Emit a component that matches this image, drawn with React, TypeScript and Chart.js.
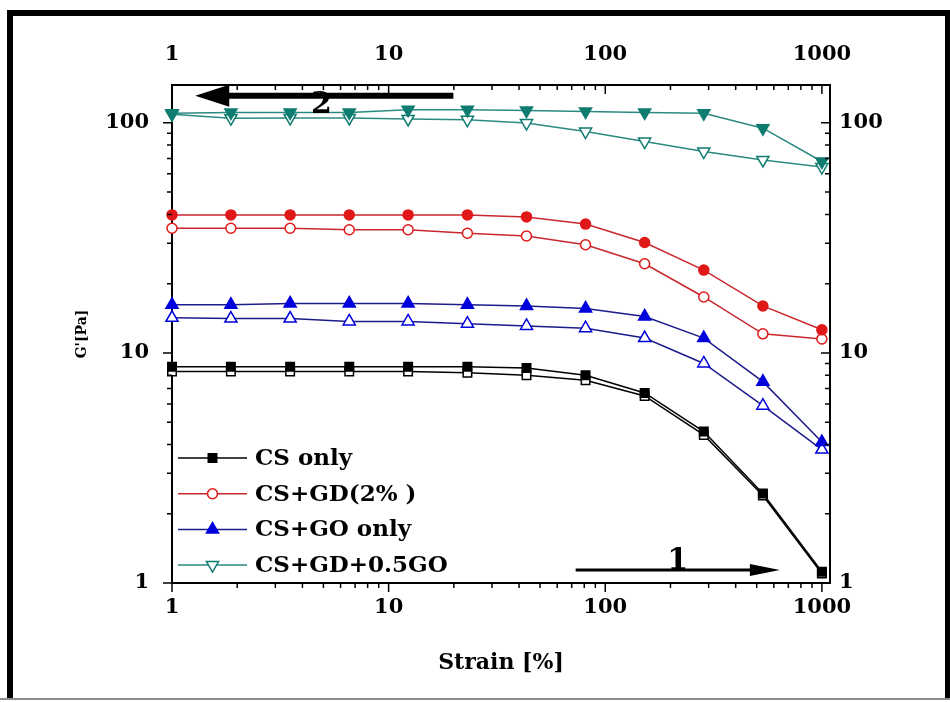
import React, { useEffect, useRef } from "react";
import { Chart, registerables } from "chart.js";

Chart.register(...registerables);

// ---------- data ----------
const strain = [1, 1.87, 3.51, 6.58, 12.3, 23.1, 43.3, 81.1, 152, 285, 534, 1000];

const csOnlyA = [8.7, 8.7, 8.7, 8.7, 8.7, 8.7, 8.6, 8.0, 6.7, 4.55, 2.45, 1.12];
const csOnlyB = [8.3, 8.3, 8.3, 8.3, 8.3, 8.2, 8.0, 7.6, 6.5, 4.4, 2.4, 1.1];

const csGdA = [39.8, 39.8, 39.8, 39.8, 39.8, 39.8, 39.0, 36.3, 30.2, 22.9, 16.0, 12.6];
const csGdB = [34.8, 34.8, 34.8, 34.3, 34.3, 33.1, 32.2, 29.5, 24.4, 17.5, 12.1, 11.5];

const csGoA = [16.2, 16.2, 16.4, 16.4, 16.4, 16.2, 16.0, 15.6, 14.4, 11.6, 7.5, 4.1];
const csGoB = [14.2, 14.1, 14.1, 13.7, 13.7, 13.4, 13.1, 12.8, 11.6, 9.0, 5.9, 3.8];

const csGdGoA = [110, 111, 111, 111, 114, 114, 113, 112, 111, 110, 94.8, 67.9];
const csGdGoB = [109, 104.8, 105, 105, 104, 103, 99.7, 91.6, 82.9, 75.0, 69.0, 64.2];

const seriesNames = ["CS only", "CS+GD(2% )", "CS+GO only", "CS+GD+0.5GO"];

const xTickValues = [1, 10, 100, 1000];
const yTickValues = [1, 10, 100];
const xRange = [1, 1090];
const yRange = [1, 146];

// sweep-direction arrows (data coordinates)
const arrowSweep1 = { from: [73, 1.14], to: [640, 1.14], label: "1", labelAt: [216, 1.14] };
const arrowSweep2 = { from: [19.9, 131], to: [1.28, 131], label: "2", labelAt: [4.9, 131] };

// ---------- styles ----------
const FONT = "'DejaVu Serif', 'Liberation Serif', serif";
Chart.defaults.font.family = FONT;
Chart.defaults.font.weight = "bold";
Chart.defaults.color = "#000";

type Sty = { line: string; mark: string; style: string; r: number; rot: number };
const styles: Sty[] = [
  { line: "#000000", mark: "#000000", style: "rect", r: 6, rot: 0 },
  { line: "#c8282d", mark: "#e01818", style: "circle", r: 5, rot: 0 },
  { line: "#1c1c8c", mark: "#0000dd", style: "triangle", r: 7, rot: 0 },
  { line: "#2b8a80", mark: "#0f7c70", style: "triangle", r: 7, rot: 180 },
];

const groups = [
  [csOnlyA, csOnlyB],
  [csGdA, csGdB],
  [csGoA, csGoB],
  [csGdGoA, csGdGoB],
];

function makeDatasets() {
  const out: any[] = [];
  groups.forEach((pair, gi) => {
    const s = styles[gi];
    pair.forEach((vals, k) => {
      out.push({
        label: seriesNames[gi] + (k === 0 ? "" : " (2)"),
        data: strain.map((x, i) => ({ x, y: vals[i] })),
        borderColor: s.line,
        borderWidth: 1.5,
        pointStyle: s.style,
        pointRotation: s.rot,
        pointRadius: s.r,
        pointBorderColor: s.mark,
        pointBackgroundColor: k === 0 ? s.mark : "#ffffff",
        pointBorderWidth: 1.5,
        tension: 0,
        clip: false,
      });
    });
  });
  return out;
}

function drawMarker(ctx: CanvasRenderingContext2D, style: string, x: number, y: number, r: number, rot: number, fill: string, stroke: string) {
  ctx.save();
  ctx.translate(x, y);
  ctx.rotate((rot * Math.PI) / 180);
  ctx.beginPath();
  if (style === "rect") {
    const s = r * Math.SQRT1_2;
    ctx.rect(-s, -s, 2 * s, 2 * s);
  } else if (style === "circle") {
    ctx.arc(0, 0, r, 0, Math.PI * 2);
  } else {
    ctx.moveTo(0, -r);
    ctx.lineTo(r * Math.sin(Math.PI / 3), r * 0.5);
    ctx.lineTo(-r * Math.sin(Math.PI / 3), r * 0.5);
    ctx.closePath();
  }
  ctx.fillStyle = fill;
  ctx.fill();
  ctx.lineWidth = 1.5;
  ctx.strokeStyle = stroke;
  ctx.stroke();
  ctx.restore();
}

function drawArrow(ctx: CanvasRenderingContext2D, x1: number, y1: number, x2: number, y2: number, lw: number, headLen: number, headHalf: number) {
  const dir = Math.sign(x2 - x1);
  ctx.save();
  ctx.strokeStyle = "#000";
  ctx.fillStyle = "#000";
  ctx.lineWidth = lw;
  ctx.beginPath();
  ctx.moveTo(x1, y1);
  ctx.lineTo(x2 - dir * headLen * 0.7, y2);
  ctx.stroke();
  ctx.beginPath();
  ctx.moveTo(x2, y2);
  ctx.lineTo(x2 - dir * headLen, y2 - headHalf);
  ctx.lineTo(x2 - dir * headLen, y2 + headHalf);
  ctx.closePath();
  ctx.fill();
  ctx.restore();
}

const decorPlugin = {
  id: "decor",
  beforeDraw(chart: any) {
    const ctx = chart.ctx as CanvasRenderingContext2D;
    ctx.save();
    ctx.fillStyle = "#fff";
    ctx.fillRect(0, 0, chart.width, chart.height);
    ctx.fillStyle = "#000";
    ctx.fillRect(7, 10, 6, 690);
    ctx.fillRect(7, 10, 943, 6);
    ctx.fillRect(945, 10, 5, 690);
    ctx.fillStyle = "#8a8a8a";
    ctx.fillRect(0, 698, 950, 2);
    ctx.restore();
  },
  afterDraw(chart: any) {
    const ctx = chart.ctx as CanvasRenderingContext2D;
    const a = chart.chartArea;
    const sx = chart.scales.x;
    const sy = chart.scales.y;
    ctx.save();
    ctx.strokeStyle = "#000";
    ctx.lineWidth = 1.5;
    // x ticks (bottom outward, top inward)
    for (const d of xTickValues) {
      for (let m = 1; m <= 9; m++) {
        const v = d * m;
        if (v < xRange[0] || v > xRange[1]) continue;
        const p = sx.getPixelForValue(v);
        const len = m === 1 ? 9 : 5;
        ctx.beginPath();
        ctx.moveTo(p, a.bottom);
        ctx.lineTo(p, a.bottom + len);
        ctx.moveTo(p, a.top);
        ctx.lineTo(p, a.top + len);
        ctx.stroke();
      }
    }
    // y ticks (left outward, right inward)
    for (const d of yTickValues) {
      for (let m = 1; m <= 9; m++) {
        const v = d * m;
        if (v < yRange[0] || v > yRange[1]) continue;
        const p = sy.getPixelForValue(v);
        const len = m === 1 ? 9 : 5;
        ctx.beginPath();
        ctx.moveTo(a.left, p);
        ctx.lineTo(a.left - len, p);
        ctx.moveTo(a.right, p);
        ctx.lineTo(a.right - len, p);
        ctx.stroke();
      }
    }
    // legend
    const lx0 = a.left + 6;
    const lx1 = a.left + 75;
    groups.forEach((_, gi) => {
      const s = styles[gi];
      const y = a.bottom - 125 + gi * 35.7;
      ctx.strokeStyle = s.line;
      ctx.lineWidth = 1.5;
      ctx.beginPath();
      ctx.moveTo(lx0, y);
      ctx.lineTo(lx1, y);
      ctx.stroke();
      const filled = gi === 0 || gi === 2;
      drawMarker(ctx, s.style, (lx0 + lx1) / 2, y, s.r, s.rot, filled ? s.mark : "#fff", s.mark);
      ctx.fillStyle = "#000";
      ctx.font = `bold 23px ${FONT}`;
      ctx.textBaseline = "middle";
      ctx.textAlign = "left";
      ctx.fillText(seriesNames[gi], lx1 + 8, y + 1);
    });
    // arrows
    ctx.font = `bold 30px ${FONT}`;
    ctx.textAlign = "center";
    ctx.textBaseline = "alphabetic";
    ctx.fillStyle = "#000";
    const l2x = sx.getPixelForValue(arrowSweep2.labelAt[0]);
    const l2y = sy.getPixelForValue(arrowSweep2.labelAt[1]);
    ctx.fillText(arrowSweep2.label, l2x, l2y + 17);
    drawArrow(ctx, sx.getPixelForValue(arrowSweep2.from[0]), sy.getPixelForValue(arrowSweep2.from[1]),
      sx.getPixelForValue(arrowSweep2.to[0]), sy.getPixelForValue(arrowSweep2.to[1]), 6, 34, 11);
    drawArrow(ctx, sx.getPixelForValue(arrowSweep1.from[0]), sy.getPixelForValue(arrowSweep1.from[1]),
      sx.getPixelForValue(arrowSweep1.to[0]), sy.getPixelForValue(arrowSweep1.to[1]), 3, 30, 6);
    const l1x = sx.getPixelForValue(arrowSweep1.labelAt[0]);
    const l1y = sy.getPixelForValue(arrowSweep1.labelAt[1]);
    ctx.fillText(arrowSweep1.label, l1x, l1y - 1);
    ctx.restore();
  },
};

const tickFont = { size: 21, weight: "bold" as const, family: FONT };
const border = { display: true, color: "#000", width: 2 };
const noGrid = { display: false, drawTicks: false };

function logAxis(values: number[], range: number[], position: string, padding: number, fitSize: number, horizontal: boolean, title?: any) {
  return {
    type: "logarithmic",
    position,
    min: range[0],
    max: range[1],
    grid: noGrid,
    border,
    afterBuildTicks: (s: any) => {
      s.ticks = values.map((v) => ({ value: v }));
    },
    ticks: {
      font: tickFont,
      color: "#000",
      padding,
      autoSkip: false,
      maxRotation: 0,
      callback: (v: any) => String(v),
    },
    title: title || { display: false },
    afterFit: (s: any) => {
      if (horizontal) s.height = fitSize;
      else s.width = fitSize;
    },
  };
}

export default function App() {
  const ref = useRef<HTMLCanvasElement>(null);
  useEffect(() => {
    if (!ref.current) return;
    const chart = new Chart(ref.current, {
      type: "line",
      data: { datasets: makeDatasets() },
      options: {
        animation: false,
        responsive: false,
        devicePixelRatio: 1,
        layout: { padding: 0 },
        plugins: { legend: { display: false }, tooltip: { enabled: false } },
        scales: {
          x: logAxis(xTickValues, xRange, "bottom", 12, 119, true, {
            display: true,
            text: "Strain [%]",
            color: "#000",
            font: { size: 22, weight: "bold", family: FONT },
            padding: { top: 0, bottom: 26 },
          }),
          x2: logAxis(xTickValues, xRange, "top", 18, 85, true),
          y: logAxis(yTickValues, yRange, "left", 23, 172, false, {
            display: true,
            text: "G'[Pa]",
            color: "#000",
            font: { size: 14, weight: "bold", family: FONT },
            padding: { top: 74, bottom: 0 },
          }),
          y2: logAxis(yTickValues, yRange, "right", 9, 120, false),
        } as any,
      } as any,
      plugins: [decorPlugin],
    });
    return () => chart.destroy();
  }, []);
  return (
    <div style={{ position: "fixed", left: 0, top: 0, width: 950, height: 702, background: "#fff" }}>
      <canvas ref={ref} width={950} height={702} style={{ display: "block", width: 950, height: 702 }} />
    </div>
  );
}
